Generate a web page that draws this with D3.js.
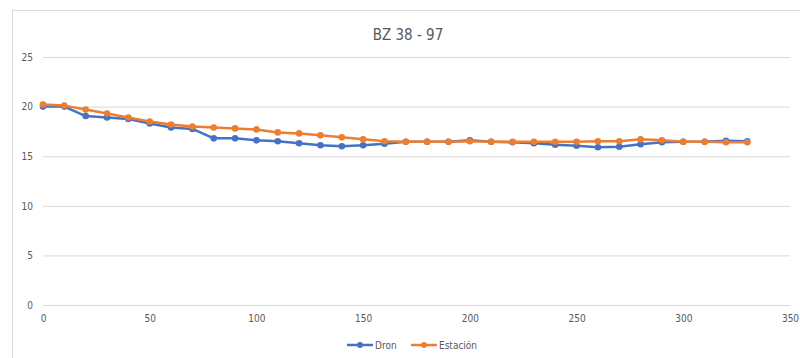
<!DOCTYPE html>
<html>
<head>
<meta charset="utf-8">
<script src="https://cdn.jsdelivr.net/npm/d3@7"></script>
<style>
  body { margin: 0; background: #fff; }
  text { font-family: "DejaVu Sans Condensed", "Liberation Sans Narrow", "Open Sans", sans-serif; font-stretch: condensed; fill: #595959; }
</style>
</head>
<body>
<div id="chart"></div>
<script>
// data
var distancia = [0, 10, 20, 30, 40, 50, 60, 70, 80, 90, 100, 110, 120, 130, 140, 150, 160,
                 170, 180, 190, 200, 210, 220, 230, 240, 250, 260, 270, 280, 290, 300, 310, 320, 330];
var dron = [20.0, 20.0, 19.05, 18.9, 18.75, 18.3, 17.9, 17.75, 16.8, 16.8, 16.6, 16.5, 16.3, 16.1, 16.0, 16.1, 16.25,
            16.45, 16.45, 16.45, 16.6, 16.45, 16.4, 16.3, 16.15, 16.05, 15.9, 15.95, 16.2, 16.4, 16.45, 16.45, 16.55, 16.5];
var estacion = [20.2, 20.1, 19.7, 19.3, 18.9, 18.5, 18.2, 18.0, 17.9, 17.8, 17.7, 17.4, 17.3, 17.1, 16.9, 16.7, 16.5,
                16.45, 16.45, 16.45, 16.5, 16.45, 16.45, 16.45, 16.45, 16.45, 16.5, 16.5, 16.7, 16.6, 16.45, 16.45, 16.4, 16.4];
var xTicks = [0, 50, 100, 150, 200, 250, 300, 350];
var yTicks = [0, 5, 10, 15, 20, 25];

var width = 800, height = 358;
var margin = {top: 57, right: 10, bottom: 53, left: 43};

var svg = d3.select("#chart")
    .append("svg")
    .attr("width", width)
    .attr("height", height);

// chart frame
svg.append("rect")
    .attr("x", 12.5).attr("y", 10.5)
    .attr("width", width).attr("height", height)
    .attr("fill", "none")
    .attr("stroke", "#d9d9d9");

var x = d3.scaleLinear()
    .domain([0, 350])
    .range([margin.left, 790]);

var y = d3.scaleLinear()
    .domain([0, 25])
    .range([height - margin.bottom, margin.top]);

// title
svg.append("text")
    .attr("x", 408).attr("y", 40)
    .attr("text-anchor", "middle")
    .style("font-size", "15px")
    .text("BZ 38 - 97");

// gridlines + y labels
var yAxis = svg.append("g")
    .attr("transform", "translate(" + margin.left + ",0)")
    .call(d3.axisLeft(y).tickValues(yTicks).tickSize(-(790 - margin.left)).tickPadding(10));
yAxis.select(".domain").remove();
yAxis.selectAll("line").attr("stroke", "#d9d9d9");
yAxis.selectAll("text").style("font-size", "10px").style("fill", "#595959");

// x labels
var xAxis = svg.append("g")
    .attr("transform", "translate(0," + y(0) + ")")
    .call(d3.axisBottom(x).tickValues(xTicks).tickSize(0).tickPadding(10));
xAxis.select(".domain").remove();
xAxis.selectAll("text").style("font-size", "10px").style("fill", "#595959");

var series = [
  {name: "Dron", values: dron, color: "#4472C4"},
  {name: "Estación", values: estacion, color: "#ED7D31"}
];

var line = d3.line()
    .x(function(d, i) { return x(distancia[i]); })
    .y(function(d) { return y(d); });

series.forEach(function(s) {
  svg.append("path")
      .datum(s.values)
      .attr("fill", "none")
      .attr("stroke", s.color)
      .attr("stroke-width", 2.5)
      .attr("stroke-linejoin", "round")
      .attr("d", line);

  svg.append("g")
      .selectAll("circle")
      .data(s.values)
      .enter()
      .append("circle")
      .attr("cx", function(d, i) { return x(distancia[i]); })
      .attr("cy", function(d) { return y(d); })
      .attr("r", 3.3)
      .attr("fill", s.color);
});

// legend
var legendPos = [347, 411];
var legend = svg.append("g");
series.forEach(function(s, i) {
  var g = legend.append("g").attr("transform", "translate(" + legendPos[i] + ",345)");
  g.append("line").attr("x1", 0).attr("x2", 26)
      .attr("stroke", s.color).attr("stroke-width", 2.5);
  g.append("circle").attr("cx", 13).attr("r", 3).attr("fill", s.color);
  g.append("text").attr("x", 28).attr("y", 3.5)
      .style("font-size", "10px")
      .text(s.name);
});
</script>
</body>
</html>
